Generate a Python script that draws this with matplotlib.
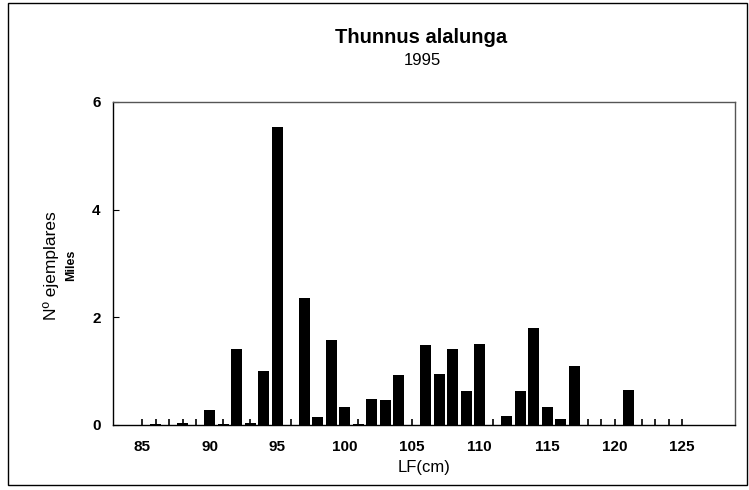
import matplotlib
matplotlib.use("Agg")
import matplotlib.pyplot as plt
from matplotlib.patches import Rectangle

plt.rcParams['font.family'] = ['Liberation Sans', 'DejaVu Sans']

# talla (LF, cm) y numero de ejemplares (miles)
lf = list(range(85, 126))
miles = [0.00, 0.02, 0.00, 0.03, 0.00,   # 85-89
         0.28, 0.02, 1.40, 0.04, 1.00,   # 90-94
         5.54, 0.00, 2.35, 0.14, 1.57,   # 95-99
         0.34, 0.02, 0.48, 0.46, 0.92,   # 100-104
         0.00, 1.49, 0.94, 1.40, 0.63,   # 105-109
         1.51, 0.00, 0.16, 0.63, 1.79,   # 110-114
         0.33, 0.11, 1.10, 0.00, 0.00,   # 115-119
         0.00, 0.64, 0.00, 0.00, 0.00,   # 120-124
         0.00]                           # 125
xticks = [85, 90, 95, 100, 105, 110, 115, 120, 125]
yticks = [0, 2, 4, 6]

fig = plt.figure(figsize=(7.49, 4.90), dpi=100)
ax = fig.add_axes([0.151, 0.133, 0.830, 0.659])

ax.bar(lf, miles, width=0.8, color='black')
ax.set_xlim(82.85, 128.9)
ax.set_ylim(0, 6)
ax.set_xticks(xticks)
ax.set_xticks(lf, minor=True)
ax.set_yticks(yticks)
ax.tick_params(axis='x', which='both', direction='in', length=4, width=1.2)
ax.tick_params(axis='x', which='major', pad=11, labelsize=11)
ax.tick_params(axis='y', direction='in', length=4, pad=9, labelsize=11)
for lab in ax.get_xticklabels() + ax.get_yticklabels():
    lab.set_fontweight('bold')
for s in ax.spines.values():
    s.set_linewidth(1.0)
ax.spines['top'].set_color('#555555')
ax.spines['right'].set_color('#555555')

ax.set_xlabel('LF(cm)', fontsize=12, labelpad=4)

fig.text(0.562, 0.923, 'Thunnus alalunga', ha='center', va='center',
         fontsize=14.5, fontweight='bold')
fig.text(0.564, 0.877, '1995', ha='center', va='center', fontsize=12)
fig.text(0.068, 0.458, 'Nº ejemplares', rotation=90, ha='center', va='center',
         fontsize=12.5)
fig.text(0.095, 0.458, 'Miles', rotation=90, ha='center', va='center',
         fontsize=9, fontweight='bold')

# marco exterior
fig.patches.append(Rectangle((0.011, 0.01), 0.986, 0.984, transform=fig.transFigure,
                             fill=False, edgecolor='black', linewidth=1.0))

fig.savefig('out.png', dpi=100)
